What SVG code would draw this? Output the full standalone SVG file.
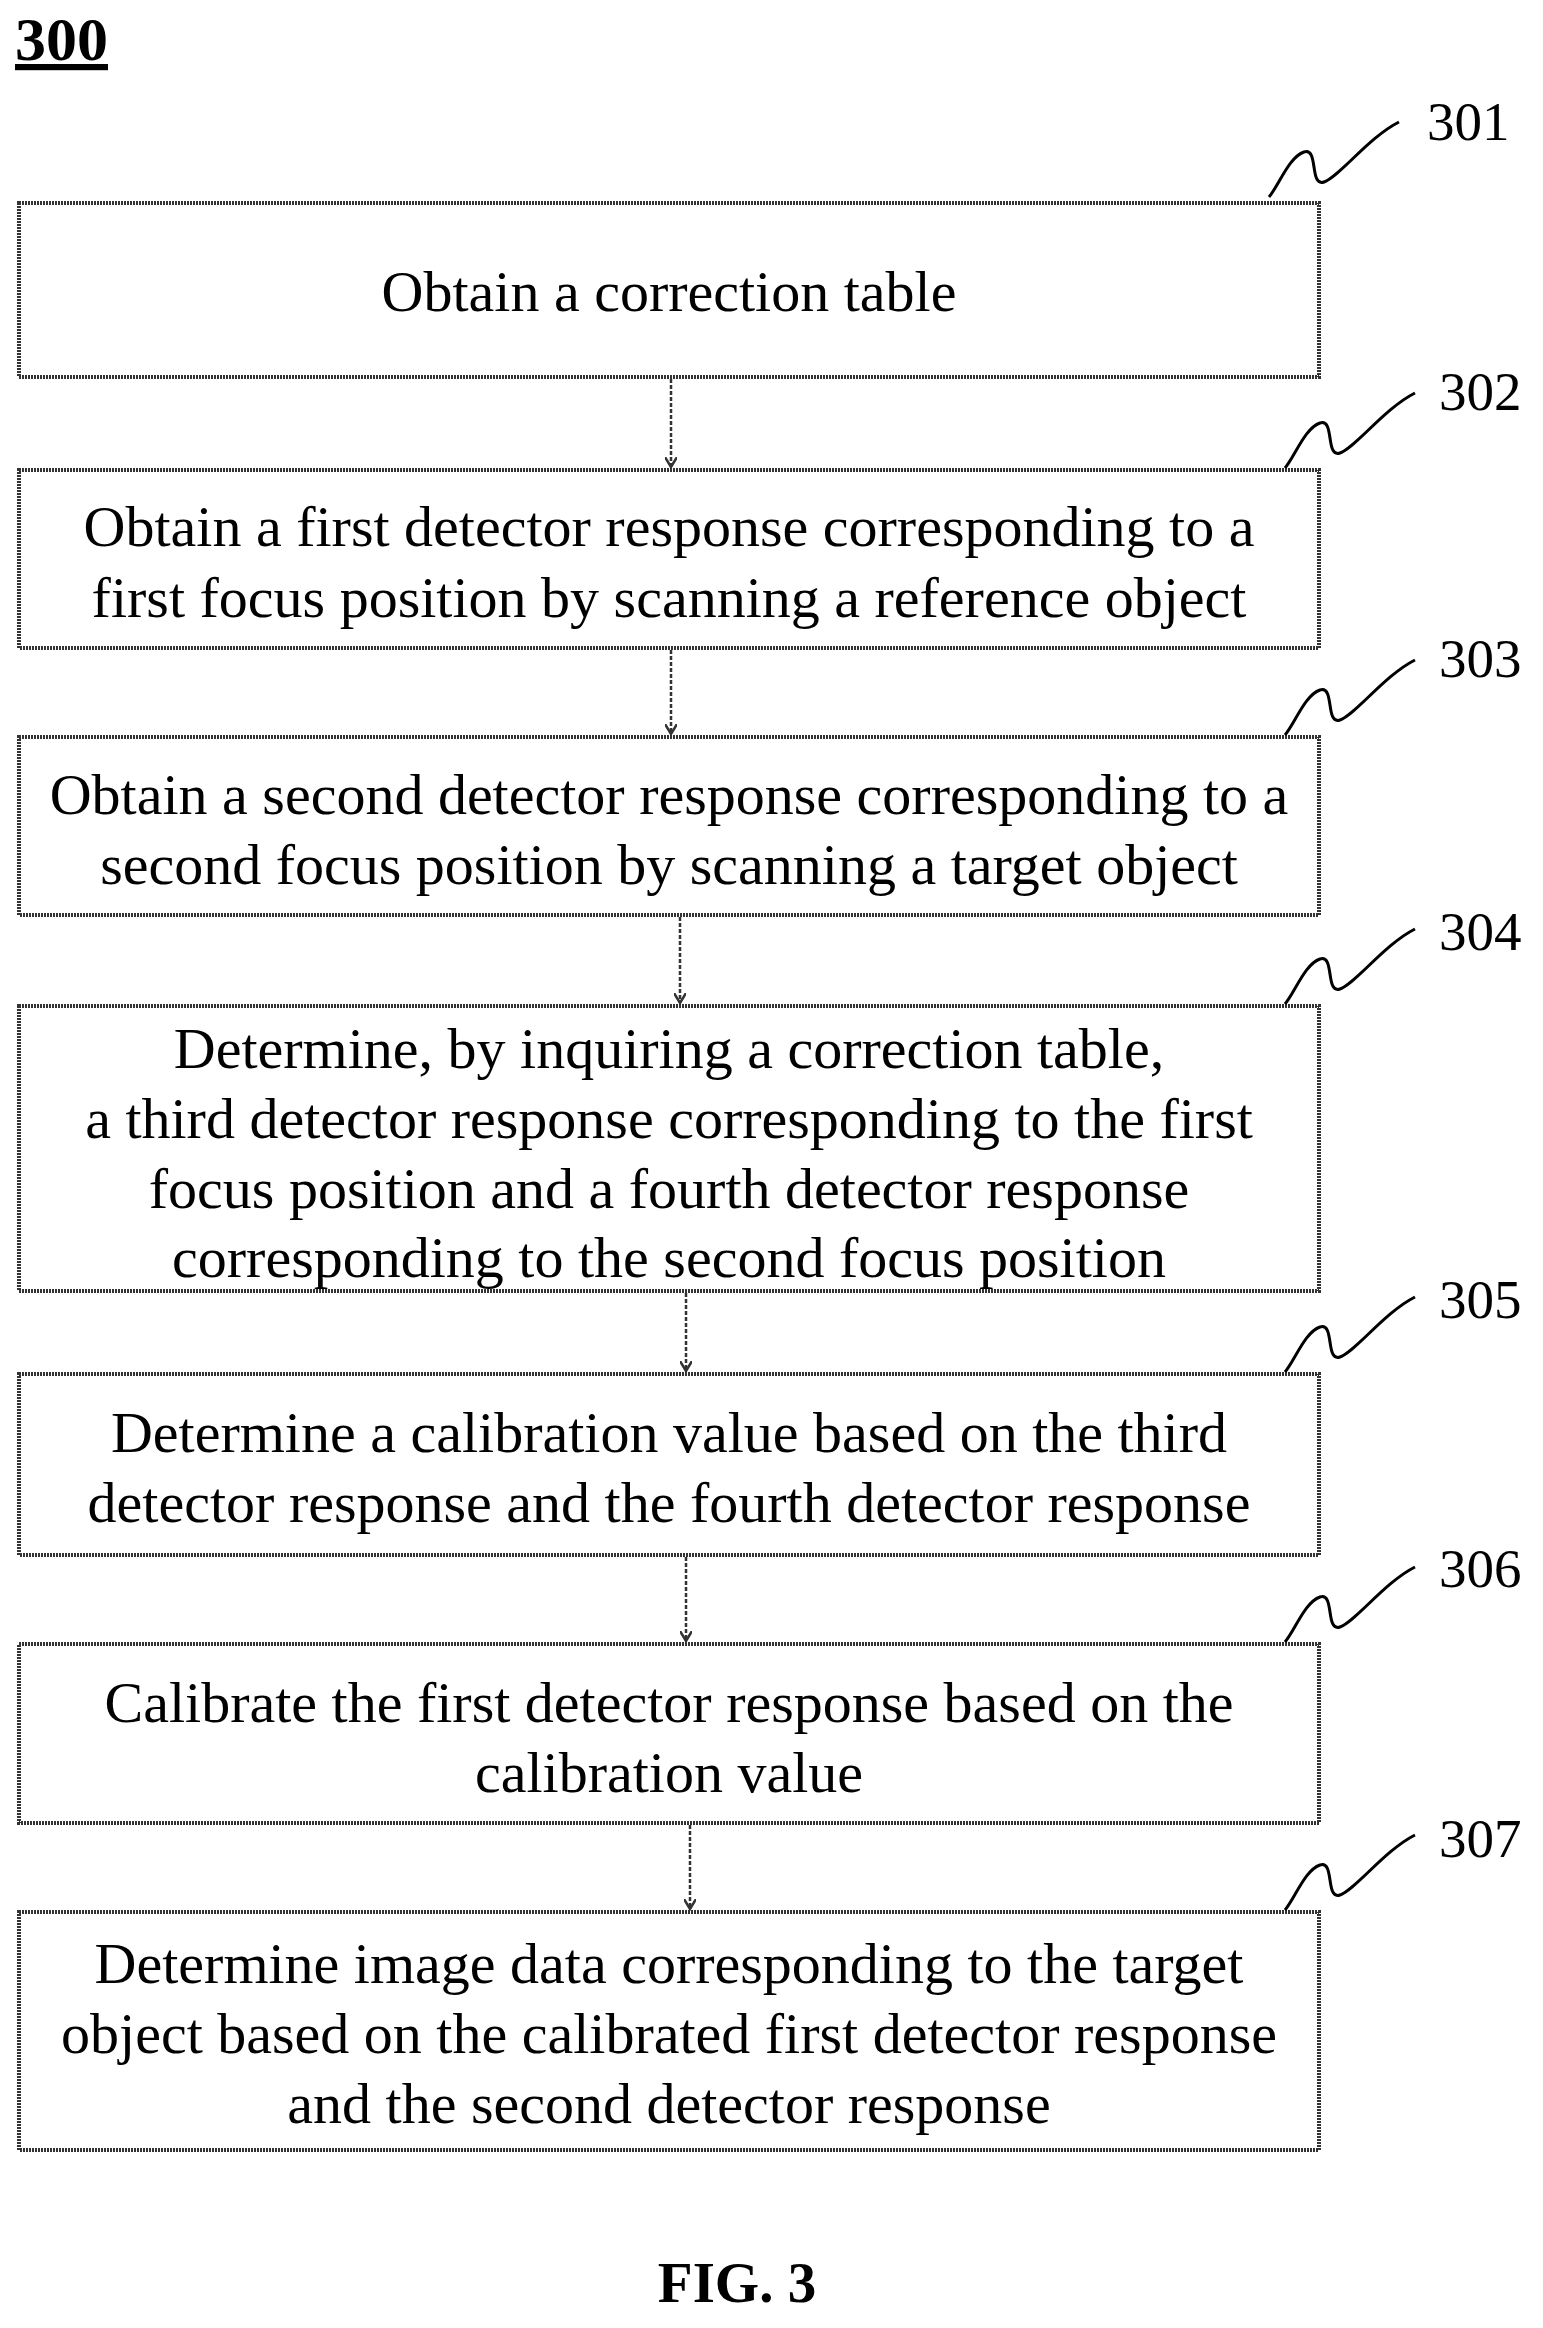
<svg xmlns="http://www.w3.org/2000/svg" width="1543" height="2328" viewBox="0 0 1543 2328">
<defs>
<style>
.box{fill:#fff;stroke:#333;stroke-width:4;stroke-dasharray:2 1}
.t{font-family:"Liberation Serif",serif;font-size:58px;text-anchor:middle;fill:#000}
.n{font-family:"Liberation Serif",serif;font-size:55px;fill:#000}
.c{stroke:#333;stroke-width:2.5;stroke-dasharray:4 2;fill:none;marker-end:url(#a)}
.s{stroke:#000;stroke-width:3;fill:none}
</style>
<marker id="a" markerWidth="12" markerHeight="12" refX="10" refY="6" orient="auto" markerUnits="userSpaceOnUse"><path d="M0,0 L10,6 L0,12" fill="none" stroke="#333" stroke-width="2.5"/></marker>
<path id="sq" d="M0,0 C10,-12 20,-40 35,-45 C50,-50 40,-10 55,-15 C70,-20 100,-60 130,-75"/>
</defs>
<text x="15" y="60" font-family="Liberation Serif,serif" font-size="62" font-weight="bold" text-decoration="underline">300</text>
<g id="connectors">
<line class="c" x1="671" y1="379" x2="671" y2="467"/>
<line class="c" x1="671" y1="650" x2="671" y2="734"/>
<line class="c" x1="680" y1="917" x2="680" y2="1003"/>
<line class="c" x1="686" y1="1293" x2="686" y2="1371"/>
<line class="c" x1="686" y1="1557" x2="686" y2="1641"/>
<line class="c" x1="690" y1="1825" x2="690" y2="1909"/>
</g>
<g id="n301"><rect class="box" x="19" y="203" width="1300" height="174"/><text class="t" x="669" y="311">Obtain a correction table</text><use href="#sq" class="s" x="1269" y="197"/><text class="n" x="1427" y="140">301</text></g>
<g id="n302"><rect class="box" x="19" y="470" width="1300" height="178"/><text class="t" x="669" y="546">Obtain a first detector response corresponding to a</text><text class="t" x="669" y="617">first focus position by scanning a reference object</text><use href="#sq" class="s" x="1285" y="468"/><text class="n" x="1439" y="410">302</text></g>
<g id="n303"><rect class="box" x="19" y="737" width="1300" height="178"/><text class="t" x="669" y="814">Obtain a second detector response corresponding to a</text><text class="t" x="669" y="884">second focus position by scanning a target object</text><use href="#sq" class="s" x="1285" y="735"/><text class="n" x="1439" y="677">303</text></g>
<g id="n304"><rect class="box" x="19" y="1006" width="1300" height="285"/><text class="t" x="669" y="1068">Determine, by inquiring a correction table,</text><text class="t" x="669" y="1138">a third detector response corresponding to the first</text><text class="t" x="669" y="1208">focus position and a fourth detector response</text><text class="t" x="669" y="1277">corresponding to the second focus position</text><use href="#sq" class="s" x="1285" y="1004"/><text class="n" x="1439" y="950">304</text></g>
<g id="n305"><rect class="box" x="19" y="1374" width="1300" height="181"/><text class="t" x="669" y="1452">Determine a calibration value based on the third</text><text class="t" x="669" y="1522">detector response and the fourth detector response</text><use href="#sq" class="s" x="1285" y="1372"/><text class="n" x="1439" y="1318">305</text></g>
<g id="n306"><rect class="box" x="19" y="1644" width="1300" height="179"/><text class="t" x="669" y="1722">Calibrate the first detector response based on the</text><text class="t" x="669" y="1792">calibration value</text><use href="#sq" class="s" x="1285" y="1642"/><text class="n" x="1439" y="1587">306</text></g>
<g id="n307"><rect class="box" x="19" y="1912" width="1300" height="238"/><text class="t" x="669" y="1983">Determine image data corresponding to the target</text><text class="t" x="669" y="2053">object based on the calibrated first detector response</text><text class="t" x="669" y="2123">and the second detector response</text><use href="#sq" class="s" x="1285" y="1910"/><text class="n" x="1439" y="1857">307</text></g>
<text x="737" y="2302" font-family="Liberation Serif,serif" font-size="57" font-weight="bold" text-anchor="middle">FIG. 3</text>
</svg>
